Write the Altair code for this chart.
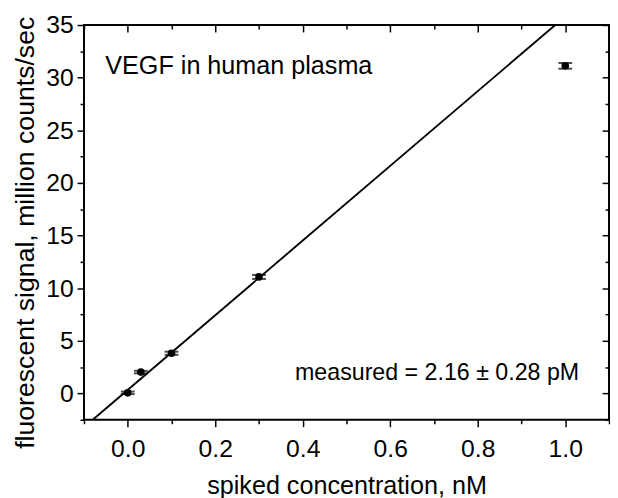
import altair as alt
import pandas as pd

# data
conc = [0.0, 0.03, 0.1, 0.3, 1.0]
signal = [0.06, 2.03, 3.82, 11.07, 31.12]
err = [0.12, 0.12, 0.15, 0.19, 0.27]

fit_x = [-0.080, 0.977]
fit_y = [-2.5, 35.0]

x_major = [0.0, 0.2, 0.4, 0.6, 0.8, 1.0]
x_minor = [-0.1, 0.1, 0.3, 0.5, 0.7, 0.9, 1.1]
y_major = [0, 5, 10, 15, 20, 25, 30, 35]
y_minor = [-2.5, 2.5, 7.5, 12.5, 17.5, 22.5, 27.5, 32.5]

labels_text = ["VEGF in human plasma", "measured = 2.16 \u00b1 0.28 pM"]

FONT = "Liberation Sans"

df = pd.DataFrame({"conc": conc, "signal": signal, "err": err})
df["lo"] = df["signal"] - df["err"]
df["hi"] = df["signal"] + df["err"]
fit = pd.DataFrame({"x": fit_x, "y": fit_y})

xs = alt.Scale(domain=[-0.1, 1.1], nice=False, zero=False)
ys = alt.Scale(domain=[-2.5, 35], nice=False, zero=False)

base = dict(domain=False, grid=False, tickColor="black", tickWidth=1.5,
            labelFlush=False, labelOverlap=False)


def ax(orient, values, size, offset=0, labels=False, title=None, fmt=None,
       lpad=4, tsize=25, tpad=8, **extra):
    kw = dict(base)
    kw.update(orient=orient, values=values, tickSize=size, labels=labels)
    if offset:
        kw["offset"] = offset
    if labels:
        kw.update(labelFont=FONT, labelFontSize=25, labelColor="black",
                  labelPadding=lpad, format=fmt)
    if title:
        kw.update(title=title, titleFont=FONT, titleFontSize=tsize,
                  titleFontWeight="normal", titleColor="black", titlePadding=tpad)
    else:
        kw["title"] = None
    kw.update(extra)
    return alt.Axis(**kw)


line = alt.Chart(fit).mark_line(color="black", strokeWidth=1.9, clip=True).encode(
    x=alt.X("x:Q", scale=xs, axis=ax("bottom", x_major, 7, labels=True,
                                     title="spiked concentration, nM", fmt=".1f",
                                     lpad=10, tsize=25.5, tpad=13)),
    y=alt.Y("y:Q", scale=ys, axis=ax("left", y_major, 7, labels=True,
                                     title="fluorescent signal, million counts/sec",
                                     fmt="d", lpad=4, tsize=27, tpad=6, titleY=210)),
)

bars = alt.Chart(df).mark_rule(color="black", strokeWidth=2).encode(
    x=alt.X("conc:Q", scale=xs, axis=ax("bottom", x_minor, 4)),
    y=alt.Y("lo:Q", scale=ys, axis=ax("left", y_minor, 4)),
    y2="hi:Q",
)

caps = alt.Chart(df).transform_fold(["lo", "hi"], as_=["k", "v"]).mark_tick(
    color="black", orient="horizontal", size=14, thickness=2
).encode(
    x=alt.X("conc:Q", scale=xs, axis=ax("top", x_major, 7, offset=-7)),
    y=alt.Y("v:Q", scale=ys, axis=ax("right", y_major, 7, offset=-7)),
)

pts = alt.Chart(df).mark_point(filled=True, color="black", size=60, opacity=1).encode(
    x=alt.X("conc:Q", scale=xs, axis=ax("top", x_minor, 4, offset=-4)),
    y=alt.Y("signal:Q", scale=ys, axis=ax("right", y_minor, 4, offset=-4)),
)

t1 = alt.Chart(pd.DataFrame({"t": [labels_text[0]]})).mark_text(
    font=FONT, fontSize=25.5, align="left", baseline="alphabetic", color="black"
).encode(x=alt.value(21.6), y=alt.value(50), text="t:N")

t2 = alt.Chart(pd.DataFrame({"t": [labels_text[1]]})).mark_text(
    font=FONT, fontSize=23.5, align="right", baseline="alphabetic", color="black"
).encode(x=alt.value(501.7), y=alt.value(359.7), text="t:N")

chart = alt.layer(line, bars, caps, pts, t1, t2).resolve_axis(
    x="independent", y="independent"
).properties(
    width=532, height=400,
    autosize=alt.AutoSizeParams(type="none"),
    padding={"left": 77, "top": 14, "right": 1, "bottom": 76},
).configure_view(stroke="black", strokeWidth=2)

chart.save("out.html", embed_options={"renderer": "svg", "actions": False})
